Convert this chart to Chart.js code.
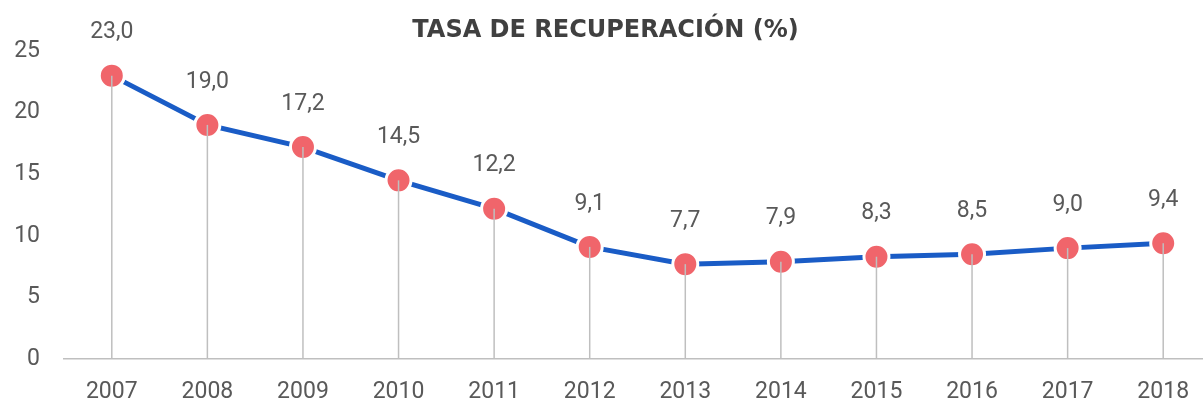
<!DOCTYPE html>
<html>
<head>
<meta charset="utf-8">
<script src="https://cdn.jsdelivr.net/npm/chart.js@4"></script>
<style>
  html, body { margin: 0; padding: 0; background: #fff; overflow: hidden; }
  #wrap { width: 1211px; height: 403px; }
</style>
</head>
<body>
<div id="wrap"><canvas id="myChart" width="1211" height="403"></canvas></div>
<script>
"use strict";
const years = ["2007", "2008", "2009", "2010", "2011", "2012", "2013", "2014", "2015", "2016", "2017", "2018"];
const tasa = [23.0, 19.0, 17.2, 14.5, 12.2, 9.1, 7.7, 7.9, 8.3, 8.5, 9.0, 9.4];
const yTicks = [0, 5, 10, 15, 20, 25];

const fuente = "Roboto, 'Noto Sans', sans-serif";

// lineas verticales y etiquetas de valor
const extras = {
  id: "extras",
  afterDatasetsDraw(chart) {
    const ctx = chart.ctx;
    const meta = chart.getDatasetMeta(0);
    const base = chart.scales.y.getPixelForValue(0);
    ctx.save();
    ctx.strokeStyle = "#bfbfbf";
    ctx.lineWidth = 1.5;
    for (let p of meta.data) {
      ctx.beginPath();
      ctx.moveTo(p.x, p.y);
      ctx.lineTo(p.x, base);
      ctx.stroke();
    }
    ctx.fillStyle = "#595959";
    ctx.font = "23px " + fuente;
    ctx.textAlign = "center";
    ctx.textBaseline = "middle";
    meta.data.forEach((p, i) => {
      ctx.fillText(tasa[i].toFixed(1).replace(".", ","), p.x, p.y - 43);
    });
    ctx.restore();
  }
};

let data = {
  labels: years,
  datasets: [{
    label: "Tasa de recuperación",
    data: tasa,
    borderColor: "#1a5cc6",
    borderWidth: 5,
    tension: 0,
    pointRadius: 12.5,
    pointHoverRadius: 12.5,
    pointBackgroundColor: "#f0656b",
    pointBorderColor: "#ffffff",
    pointBorderWidth: 3,
    clip: false
  }]
};

const config = {
  type: "line",
  data: data,
  plugins: [extras],
  options: {
    responsive: false,
    animation: false,
    layout: { padding: 0, autoPadding: false },
    scales: {
      x: {
        offset: true,
        grid: { display: false, drawTicks: false },
        border: { display: true, color: "#bfbfbf", width: 1.5 },
        ticks: { color: "#595959", font: { family: fuente, size: 23 }, padding: 19 },
        afterFit(scale) {
          scale.height = 44;
          scale.paddingLeft = 0;
          scale.paddingRight = 0;
        }
      },
      y: {
        min: 0,
        max: 25,
        afterBuildTicks(scale) { scale.ticks = yTicks.map(v => ({ value: v })); },
        grid: { display: false, drawTicks: false },
        border: { display: false },
        ticks: { color: "#595959", font: { family: fuente, size: 23 }, padding: 24 },
        afterFit(scale) { scale.width = 64; }
      }
    },
    plugins: {
      legend: { display: false },
      tooltip: { enabled: false },
      title: {
        display: true,
        text: "TASA DE RECUPERACIÓN (%)",
        color: "#404040",
        font: { family: "'DejaVu Sans', sans-serif", size: 24, weight: "bold", lineHeight: 1.2 },
        padding: { top: 16, bottom: 6.2 }
      }
    }
  }
};

let myChart = new Chart(document.getElementById("myChart"), config);
</script>
</body>
</html>
